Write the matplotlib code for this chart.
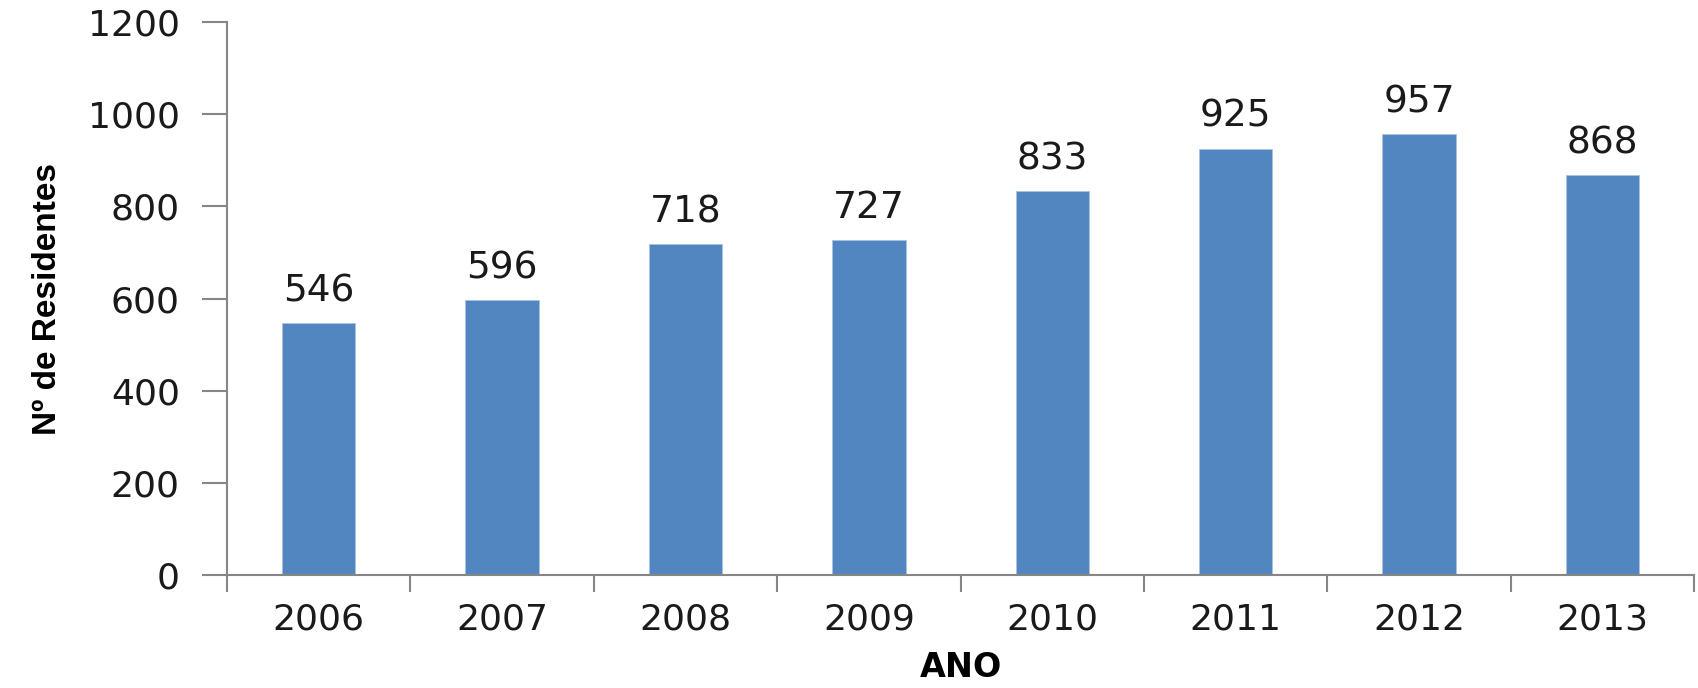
import matplotlib.pyplot as plt
import numpy as np

anos = ['2006', '2007', '2008', '2009', '2010', '2011', '2012', '2013']
residentes = [546, 596, 718, 727, 833, 925, 957, 868]

fig = plt.figure(figsize=(16.98, 6.88), dpi=100)
ax = fig.add_axes([0.1337, 0.164, 0.864, 0.804])

x = np.arange(len(anos))
bars = ax.bar(x, residentes, width=0.4, color='#5286C0', edgecolor='#A9C2E0', linewidth=0.6)

# rótulos de valor acima das barras
for xi, v in zip(x, residentes):
    ax.annotate(str(v), (xi, v), xytext=(0, 10), textcoords='offset points',
                ha='center', va='bottom', fontsize=27, color='#1a1a1a')

ax.set_xlim(-0.5, len(anos) - 0.5)
ax.set_ylim(0, 1200)
ax.set_yticks(range(0, 1201, 200))
ax.set_xticks(x)
ax.set_xticklabels(anos)
ax.set_xticks(np.arange(-0.5, len(anos)), minor=True)

ax.tick_params(axis='x', which='major', length=0, pad=20, labelsize=26, labelcolor='#1a1a1a')
ax.tick_params(axis='x', which='minor', length=12, width=1.5, color='#868686', direction='out')
ax.tick_params(axis='y', length=18, width=1.5, color='#868686', pad=16, labelsize=26, labelcolor='#1a1a1a')

for s in ['top', 'right']:
    ax.spines[s].set_visible(False)
for s in ['left', 'bottom']:
    ax.spines[s].set_color('#868686')
    ax.spines[s].set_linewidth(1.5)

ax.set_xlabel('ANO', fontsize=24, fontweight='bold', labelpad=10,
              family=['DejaVu Sans'])
ax.set_ylabel('Nº de Residentes', fontsize=24, fontweight='bold', labelpad=18,
              family=['Liberation Sans', 'DejaVu Sans'])

fig.savefig('out.png', dpi=100)
